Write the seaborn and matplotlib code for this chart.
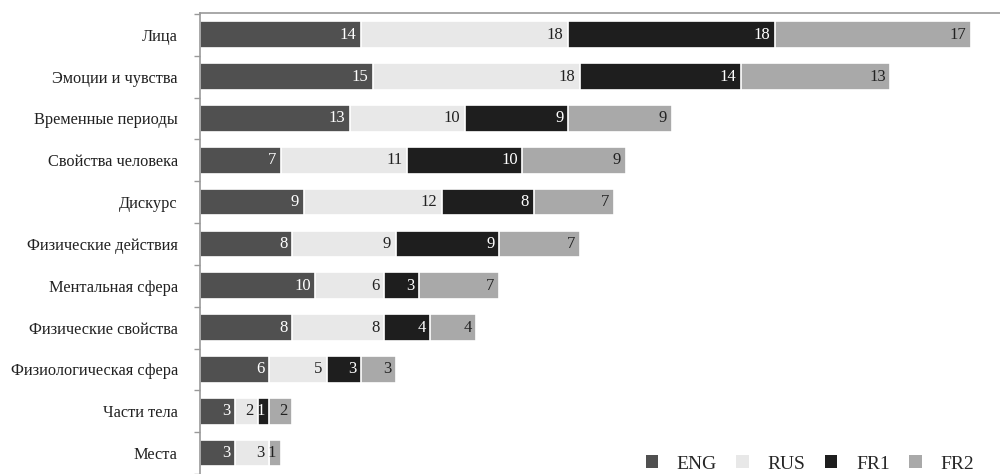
import matplotlib
matplotlib.use("Agg")
import matplotlib.pyplot as plt
import matplotlib.patches as mpatches
import seaborn as sns
import pandas as pd
import numpy as np

categories = ["Лица", "Эмоции и чувства", "Временные периоды", "Свойства человека",
              "Дискурс", "Физические действия", "Ментальная сфера",
              "Физические свойства", "Физиологическая сфера", "Части тела", "Места"]
eng = [14, 15, 13, 7, 9, 8, 10, 8, 6, 3, 3]
rus = [18, 18, 10, 11, 12, 9, 6, 8, 5, 2, 3]
fr1 = [18, 14, 9, 10, 8, 9, 3, 4, 3, 1, 0]
fr2 = [17, 13, 9, 9, 7, 7, 7, 4, 3, 2, 1]
series_names = ["ENG", "RUS", "FR1", "FR2"]
colors = ["#505050", "#e8e8e8", "#1e1e1e", "#a9a9a9"]
text_colors = ["white", "#222222", "white", "#222222"]

sns.set_theme(style="white")
plt.rcParams["font.family"] = ["Liberation Serif", "DejaVu Serif"]

series = [eng, rus, fr1, fr2]
cum = np.cumsum(np.array(series), axis=0)
df = pd.DataFrame({"category": categories})
for i, name in enumerate(series_names):
    df[name + "_cum"] = cum[i]

fig = plt.figure(figsize=(10, 4.74), dpi=100)
ax = fig.add_axes([0.2, 0.0, 0.8, 1 - 13 / 474])

for i in reversed(range(4)):
    sns.barplot(data=df, y="category", x=series_names[i] + "_cum", orient="h",
                color=colors[i], saturation=1, width=0.64,
                edgecolor="white", linewidth=1.2, ax=ax)

for i in range(4):
    for j, v in enumerate(series[i]):
        if v > 0:
            ax.text(cum[i][j] - 0.38, j, str(v), ha="right", va="center",
                    fontsize=12, color=text_colors[i])

ax.set_xlim(0, 800 / 11.5)
ax.set_ylim(10.35, -0.52)
ax.set_xlabel("")
ax.set_ylabel("")
ax.set_xticks([])
ax.tick_params(axis="y", which="major", length=0, pad=16, labelsize=11.8, labelcolor="#222222")
ax.set_yticks(np.arange(-0.5, 11, 1), minor=True)
ax.tick_params(axis="y", which="minor", length=4, width=1, color="#999999", left=True)
for s in ["right", "bottom"]:
    ax.spines[s].set_visible(False)
for s in ["left", "top"]:
    ax.spines[s].set_visible(True)
    ax.spines[s].set_color("#999999")
    ax.spines[s].set_linewidth(1.2)

handles = [mpatches.Patch(facecolor=c, edgecolor="none", label=n) for c, n in zip(colors, series_names)]
fig.legend(handles=handles, ncol=4, loc="center right", bbox_to_anchor=(0.974, 1 - 464 / 474),
           frameon=False, handlelength=0.65, handleheight=0.65, handletextpad=0.95,
           columnspacing=1.0, fontsize=14, borderpad=0, borderaxespad=0)

fig.savefig("out.png", dpi=100)
